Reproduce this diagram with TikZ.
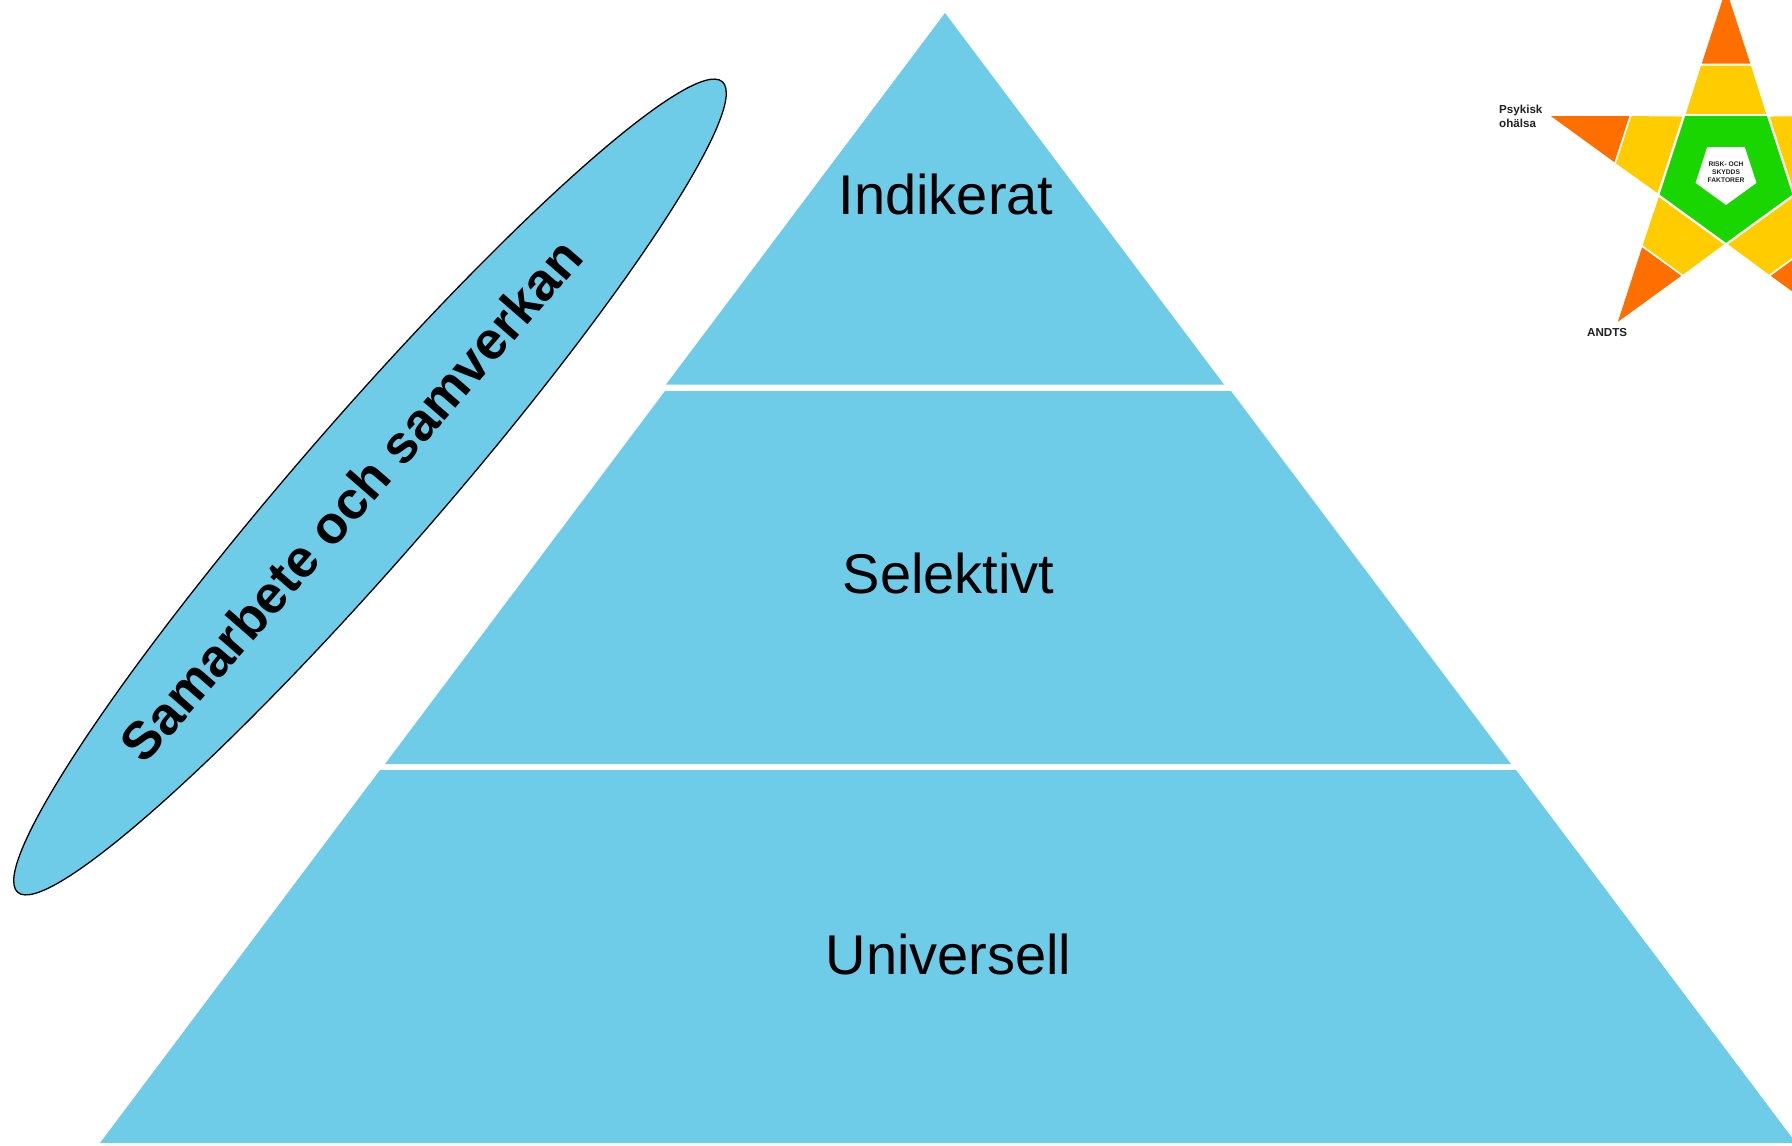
\documentclass[tikz,border=0pt]{standalone}
\usepackage{fontspec}
\setmainfont{Liberation Sans}
\definecolor{pyr}{HTML}{6ECCE9}
\definecolor{starorange}{HTML}{FF6F00}
\definecolor{staryellow}{HTML}{FFCC00}
\definecolor{stargreen}{HTML}{19D500}
\definecolor{startext}{HTML}{222222}
\tikzset{
  x=1pt,y=1pt,
  band/.style={fill=pyr,draw=none},
  levellabel/.style={anchor=base,inner sep=0pt,font=\fontsize{56}{60}\selectfont,text=black},
  starlabel/.style={anchor=base west,inner sep=0pt,font=\fontsize{11.6}{14}\selectfont\bfseries,text=startext},
  riskline/.style={anchor=base,inner sep=0pt,font=\fontsize{6.7}{8}\selectfont\bfseries,text=startext},
}
\begin{document}
\begin{tikzpicture}
\useasboundingbox (0,-1146) rectangle (1792,0);
\clip (0,-1146) rectangle (1792,0);
\fill[white] (0,-1146) rectangle (1792,0);
% pyramid
\fill[band] (945,-13) -- (1224,-384.5) -- (666,-384.5) -- cycle;
\fill[band] (665,-391) -- (1231,-391) -- (1511,-764) -- (385,-764) -- cycle;
\fill[band] (380,-770) -- (1516,-770) -- (1796,-1143) -- (100,-1143) -- cycle;
\node[levellabel] (ind) at (946,-214.5) {Indikerat};
\node[levellabel] (sel) at (948.5,-593.5) {Selektivt};
\node[levellabel] (uni) at (948.5,-974) {Universell};
% ellipse
\draw[fill=pyr,draw=black,line width=1.3pt,rotate around={49:(370,-487)}] (370,-487) ellipse (537 and 70);
\node[inner sep=0pt,rotate=49,font=\fontsize{53}{57}\selectfont\bfseries,text=black] (samarbete) at (351,-500) {Samarbete och samverkan};
% star
\begin{scope}[shift={(1726,-173)}]
  \foreach \r in {0,72,144,216,288}{
    \begin{scope}[rotate=\r]
      \fill[starorange] (0,184) -- (24.2,109.5) -- (-24.2,109.5) -- cycle;
      \fill[staryellow] (-24.9,107.5) -- (24.9,107.5) -- (40.2,59) -- (-40.2,59) -- cycle;
    \end{scope}
  }
  \fill[stargreen] (270:70.8) -- (342:70.8) -- (54:70.8) -- (126:70.8) -- (198:70.8) -- cycle;
  \foreach \r in {0,72,144,216,288}{
    \draw[white,line width=1.4pt,rotate=\r] (-41.6,57.3) -- (41.6,57.3);
  }
  \fill[white] (270:32) -- (342:32) -- (54:32) -- (126:32) -- (198:32) -- cycle;
\end{scope}
\node[riskline] (r1) at (1726,-166) {RISK- OCH};
\node[riskline] (r2) at (1726,-174) {SKYDDS};
\node[riskline] (r3) at (1726,-182) {FAKTORER};
\node[starlabel] (psy1) at (1499,-113) {Psykisk};
\node[starlabel] (psy2) at (1499,-127) {ohälsa};
\node[starlabel] (andts) at (1587,-336) {ANDTS};
\end{tikzpicture}
\end{document}
